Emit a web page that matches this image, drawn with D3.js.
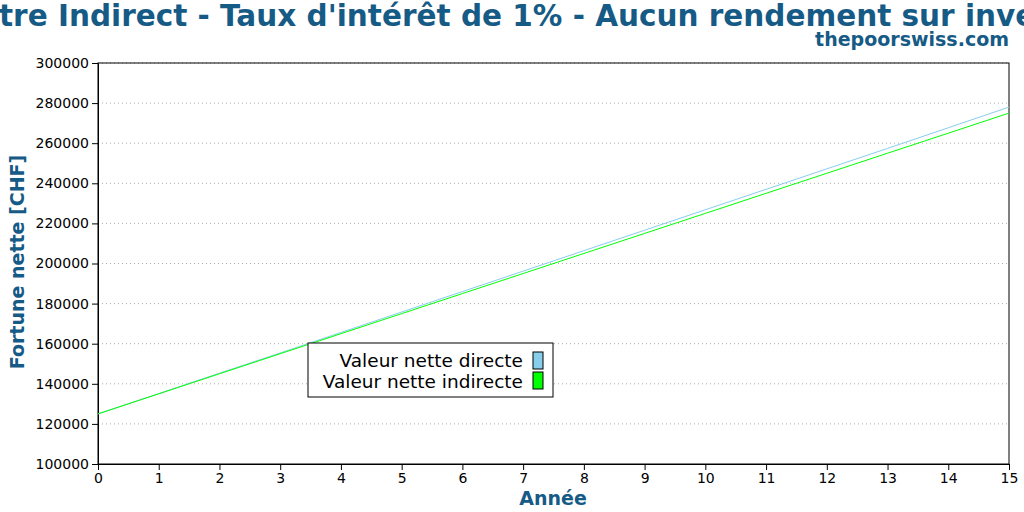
<!DOCTYPE html><html><head><meta charset="utf-8"><script src="https://cdn.jsdelivr.net/npm/d3@7"></script>
<style>body{margin:0;background:#fff}text{font-family:"DejaVu Sans"}</style></head><body><svg width="1024" height="512"></svg><script>
const years=[0,1,2,3,4,5,6,7,8,9,10,11,12,13,14,15];
const direct=[125000,135100,145300,155400,165600,175800,186000,196200,206400,216600,226800,237000,247200,257400,267700,278000];
const indirect=[125000,135000,145000,155000,165000,175000,185000,195000,205000,215000,225000,235000,245000,255000,265000,275000];
const yTicks=[100000,120000,140000,160000,180000,200000,220000,240000,260000,280000,300000];
const seriesNames=["Valeur nette directe","Valeur nette indirecte"];
const colors=["#87ceeb","#00ff00"];
const blue="#165a86";
const svg=d3.select("svg");
const x=d3.scaleLinear().domain([0,15]).range([98,1009]);
const y=d3.scaleLinear().domain([100000,300000]).range([464,63]);
svg.append("g").selectAll("line").data(yTicks.slice(1)).join("line").attr("x1",98).attr("x2",1009).attr("y1",d=>y(d)).attr("y2",d=>y(d)).attr("stroke","#aaa").attr("stroke-dasharray","1,3");
svg.append("rect").attr("x",98).attr("y",63).attr("width",911).attr("height",401).attr("fill","none").attr("stroke","#000");
const xa=svg.append("g").attr("transform","translate(0,464)").call(d3.axisBottom(x).tickValues(years).tickFormat(d3.format("d")).tickSizeOuter(0));
const ya=svg.append("g").attr("transform","translate(98,0)").call(d3.axisLeft(y).tickValues(yTicks).tickFormat(d3.format("d")).tickSizeOuter(0));
[xa,ya].forEach(a=>a.selectAll("text").attr("font-size",14).attr("font-family","DejaVu Sans").attr("fill","#000"));
const line=d3.line().x((d,i)=>x(years[i])).y(d=>y(d));
[direct,indirect].forEach((s,i)=>svg.append("path").attr("d",line(s)).attr("fill","none").attr("stroke",colors[i]).attr("stroke-width",1));
svg.append("text").attr("x",553).attr("y",505).attr("text-anchor","middle").attr("font-size",19).attr("font-weight","bold").attr("fill",blue).text("Année");
svg.append("text").attr("transform","translate(24,262) rotate(-90)").attr("text-anchor","middle").attr("font-size",19).attr("font-weight","bold").attr("fill",blue).text("Fortune nette [CHF]");
const t=svg.append("text").attr("y",26).attr("font-size",29.5).attr("font-weight","bold").attr("fill",blue).text("3e pilier Direct contre Indirect - Taux d'intérêt de 1% - Aucun rendement sur investissement");
const full=t.text(); const off=t.node().getSubStringLength(0,full.indexOf("tre Indirect"));
t.attr("x",-off-1);
svg.append("text").attr("x",1009).attr("y",46).attr("text-anchor","end").attr("font-size",19).attr("font-weight","bold").attr("fill",blue).text("thepoorswiss.com");
const lg=svg.append("g");
lg.append("rect").attr("x",308).attr("y",343).attr("width",245).attr("height",54).attr("fill","#fff").attr("stroke","#000");
seriesNames.forEach((n,i)=>{
 lg.append("text").attr("x",523).attr("y",367+i*21).attr("text-anchor","end").attr("font-size",18.5).text(n);
 lg.append("rect").attr("x",533).attr("y",352+i*20).attr("width",10).attr("height",17).attr("fill",colors[i]).attr("stroke","#000");
});
</script></body></html>
